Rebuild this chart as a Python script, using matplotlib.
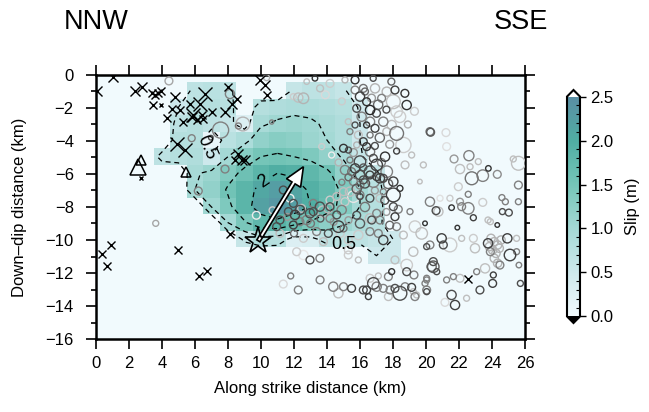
import numpy as np
import matplotlib
matplotlib.use("Agg")
from matplotlib import pyplot as plt
from matplotlib.colors import LinearSegmentedColormap
from matplotlib.patches import FancyArrow
from matplotlib.ticker import MultipleLocator

plt.rcParams['font.family'] = ['Liberation Sans', 'DejaVu Sans']

# slip (m) on 1 km cells; columns centred on x = 0..26 km, rows centred on depth 0.95 + k km
slip_rows = [
    [0, 0, 0, 0, 0, 0, .7, .75, .7, 0, 0, 0, .6, .7, .7, .6, 0, 0, 0, 0, 0, 0, 0, 0, 0, 0, 0],
    [0, 0, 0, 0, 0, .5, .75, .8, .75, 0, .8, .85, .9, .9, .85, .8, .45, 0, 0, 0, 0, 0, 0, 0, 0, 0, 0],
    [0, 0, 0, 0, 0, .7, .8, .7, .6, .3, .95, 1.05, 1.1, 1.05, .95, .85, .5, 0, 0, 0, 0, 0, 0, 0, 0, 0, 0],
    [0, 0, 0, 0, 0, .8, .8, .1, .75, .9, 1.2, 1.3, 1.25, 1.1, 1.0, .85, .5, 0, 0, 0, 0, 0, 0, 0, 0, 0, 0],
    [0, 0, 0, 0, .7, .8, .85, .5, 1.0, 1.3, 1.5, 1.55, 1.5, 1.4, 1.2, .95, .6, 0, 0, 0, 0, 0, 0, 0, 0, 0, 0],
    [0, 0, 0, 0, 0, 0, .95, 1.1, 1.35, 1.6, 1.85, 2.0, 1.95, 1.8, 1.6, 1.2, .85, .6, 0, 0, 0, 0, 0, 0, 0, 0, 0],
    [0, 0, 0, 0, 0, 0, 1.0, 1.2, 1.55, 1.85, 2.1, 2.25, 2.15, 1.95, 1.75, 1.4, 1.0, .75, 0, 0, 0, 0, 0, 0, 0, 0, 0],
    [0, 0, 0, 0, 0, 0, 0, 1.05, 1.4, 1.85, 2.2, 2.35, 2.25, 2.0, 1.7, 1.35, 1.0, .8, 0, 0, 0, 0, 0, 0, 0, 0, 0],
    [0, 0, 0, 0, 0, 0, 0, 0, 1.0, 1.45, 1.8, 1.9, 1.7, 1.45, 1.25, 1.05, .9, .75, 0, 0, 0, 0, 0, 0, 0, 0, 0],
    [0, 0, 0, 0, 0, 0, 0, 0, 0, .6, .85, .8, .3, .35, .7, .75, .7, .6, .5, 0, 0, 0, 0, 0, 0, 0, 0],
    [0, 0, 0, 0, 0, 0, 0, 0, 0, 0, 0, 0, 0, 0, 0, 0, 0, .5, .5, 0, 0, 0, 0, 0, 0, 0, 0],
] + [[0] * 27 for _ in range(5)]
cell_x = np.arange(27)
cell_depth = 0.95 + np.arange(16)
labelled_levels = [0.5, 2.0]
plain_levels = [1.0, 1.5]
label_spots = [(6.9, -4.3), (10.8, -7.4), (15.0, -10.4)]

# aftershocks: (along strike km, depth km, size, grey tone)
shocks_north = [
    (13.27, 0.20, 1.2, .2), (12.77, 0.40, 1.2, .75), (13.58, 0.81, 1.5, .75), (14.18, 0.51, 1.7, .8),
    (12.26, 1.37, 2.0, .75), (12.57, 1.41, 2.3, .7), (11.96, 1.31, 1.3, .8), (15.09, 0.30, 1.3, .7),
    (15.70, 0.30, 1.7, .2), (16.20, 0.81, 1.7, .45), (16.00, 1.31, 2.0, .25), (16.80, 0.20, 1.3, .3),
    (16.91, 0.81, 2.0, .7), (16.40, 1.62, 1.7, .2), (16.61, 2.12, 2.0, .15), (17.00, 2.32, 1.7, .3),
    (17.31, 1.41, 1.7, .5), (17.62, 1.01, 2.0, .7), (18.12, 0.91, 1.7, .25), (18.72, 1.11, 1.7, .2),
    (18.83, 1.82, 2.0, .2), (18.02, 1.62, 3.0, .75), (18.22, 2.22, 2.5, .8), (18.22, 3.54, 3.0, .45),
    (18.63, 4.24, 3.3, .8), (17.92, 3.03, 2.0, .75), (17.41, 2.83, 2.0, .5), (17.62, 3.43, 1.7, .7),
    (16.40, 3.03, 1.3, .2), (16.91, 3.23, 1.7, .25), (16.61, 3.64, 1.3, .45), (16.20, 4.04, 1.7, .25),
    (16.61, 4.65, 2.0, .45), (16.40, 4.34, 1.7, .2), (16.81, 5.05, 1.7, .3), (17.01, 5.45, 2.5, .25),
    (17.52, 4.95, 2.0, .2), (18.22, 4.61, 1.3, .25), (19.13, 4.85, 1.3, .75), (19.84, 5.45, 1.3, .75),
    (20.24, 3.43, 1.7, .45), (15.00, 4.44, 1.7, .2), (15.30, 4.55, 1.3, .3), (15.80, 4.24, 1.3, .7),
    (15.39, 5.15, 1.3, .45), (15.70, 5.66, 2.0, .25), (16.00, 5.25, 2.5, .3), (16.61, 5.86, 2.5, .3),
    (17.21, 6.26, 2.0, .25), (17.62, 5.86, 2.5, .5), (18.02, 6.46, 2.0, .25), (18.42, 6.87, 1.3, .2),
    (18.02, 7.27, 3.0, .25), (17.41, 7.07, 1.3, .5), (16.81, 6.46, 2.5, .5), (16.30, 6.57, 2.0, .3),
    (16.00, 6.06, 2.0, .3), (15.60, 6.46, 1.7, .5), (16.00, 7.27, 1.7, .5), (15.39, 7.07, 2.0, .75),
    (15.00, 7.07, 1.7, .75), (14.28, 4.85, 1.3, .93), (13.68, 4.34, 1.3, .8),
    (15.70, 0.91, 1.7, .5), (15.80, 2.02, 1.7, .3), (16.10, 2.53, 2.0, .5), (15.70, 3.03, 1.3, .3),
    (15.39, 3.43, 1.3, .5), (15.90, 3.64, 1.7, .75), (15.29, 2.83, 1.3, .75), (16.61, 2.83, 2.0, .5),
    (18.42, 2.53, 2.5, .8), (18.73, 5.45, 1.7, .75),
    (16.30, 1.00, 1.5, .4), (16.70, 1.40, 1.7, .6), (17.10, 1.80, 2.0, .4), (17.60, 2.10, 1.5, .3),
    (17.20, 3.80, 2.0, .4), (17.80, 4.20, 1.7, .6), (16.90, 4.30, 1.5, .3), (15.60, 4.70, 1.7, .6),
    (16.20, 5.60, 1.5, .35), (17.30, 5.30, 1.7, .5), (15.30, 6.20, 1.5, .4), (14.70, 5.30, 1.5, .7),
    (18.90, 3.00, 1.5, .7), (19.30, 2.20, 1.7, .8), (17.90, 0.40, 1.5, .4), (14.90, 1.60, 1.5, .8),
    (13.90, 1.20, 1.7, .85),
]
shocks_middle = [
    (11.35, 6.97, 1.7, .3), (11.76, 7.47, 1.7, .93), (11.66, 8.28, 1.7, .3), (12.06, 8.48, 2.0, .25),
    (11.96, 9.09, 1.7, .25), (12.36, 8.89, 1.7, .5), (12.77, 8.79, 2.0, .5), (12.46, 8.08, 1.7, .75),
    (13.17, 8.28, 1.7, .3), (13.57, 7.98, 2.0, .3), (13.78, 8.28, 2.5, .75), (14.08, 8.08, 2.0, .7),
    (14.18, 7.58, 1.7, .8), (14.59, 7.37, 1.7, .75), (14.59, 8.48, 1.7, .3), (14.69, 9.19, 2.5, .25),
    (14.89, 8.18, 2.0, .5), (15.09, 7.68, 1.7, .8), (15.60, 7.37, 2.5, .9),
    (15.90, 9.70, 2.0, .8), (15.29, 9.99, 1.7, .8), (16.00, 7.37, 1.3, .3), (16.20, 6.36, 1.7, .3),
    (15.49, 5.86, 1.7, .45), (15.09, 5.76, 2.0, .5), (16.00, 6.67, 1.7, .5), (16.60, 6.06, 1.7, .25),
    (17.01, 6.16, 1.7, .25), (17.41, 6.26, 1.7, .3), (17.21, 7.47, 1.7, .75), (16.60, 7.47, 1.7, .3),
    (17.01, 8.38, 1.7, .5), (17.21, 8.79, 1.7, .5), (16.60, 8.69, 2.0, .75), (16.60, 9.49, 1.7, .5),
    (11.15, 8.79, 1.7, .3), (10.95, 9.19, 1.7, .3), (11.15, 9.60, 1.7, .75), (12.57, 9.90, 1.7, .8),
    (13.37, 9.49, 1.7, .5), (13.78, 10.10, 1.7, .75), (14.08, 9.60, 1.7, .3), (14.18, 8.69, 1.7, .5),
    (12.97, 11.21, 1.7, .3), (12.57, 10.91, 2.0, .9), (12.16, 10.71, 1.7, .8), (13.57, 11.11, 1.7, .5),
    (12.97, 8.38, 2.0, .3), (12.36, 8.18, 2.0, .3), (11.96, 7.78, 1.7, .3), (13.17, 7.78, 1.7, .5),
    (14.18, 7.98, 1.7, .3), (16.71, 8.79, 1.7, .3), (17.11, 9.60, 1.7, .5), (14.80, 9.60, 1.7, .8),
    (15.80, 6.90, 2.0, .35), (16.90, 7.00, 1.5, .6), (17.70, 6.60, 2.0, .4), (17.50, 7.60, 1.7, .3),
    (16.30, 8.00, 2.0, .45), (15.80, 8.50, 1.7, .3), (15.30, 8.80, 1.5, .6), (16.00, 9.00, 2.0, .35),
    (17.60, 8.30, 1.5, .6), (17.80, 9.10, 1.7, .4), (13.00, 9.00, 1.7, .45), (12.00, 9.60, 1.5, .4),
    (13.60, 8.70, 1.5, .35), (14.40, 8.90, 1.5, .6), (15.00, 9.30, 1.5, .45), (11.60, 8.60, 1.5, .6),
    (10.70, 8.20, 1.5, .8), (14.90, 6.50, 1.3, .5),
]
shocks_west = [
    (6.20, 7.03, 1.7, .5), (7.82, 5.70, 1.7, .5), (9.72, 8.50, 1.7, .93), (4.42, 0.36, 1.7, .65),
    (5.80, 3.83, 1.5, .5), (7.55, 3.34, 3.5, .5), (8.90, 2.97, 3.0, .7), (8.63, 3.09, 1.3, .5),
    (6.96, 3.80, 1.0, .3), (8.12, 1.15, 2.0, .5), (10.65, 2.85, 0.9, .5), (3.62, 8.99, 1.3, .65),
    (10.34, 0.16, 1.3, .7),
]
shocks_south = [
    (20.24, 7.68, 2.0, .5), (20.75, 8.28, 2.0, .75), (19.94, 8.99, 1.0, .2), (19.33, 9.19, 2.5, .8),
    (19.74, 9.60, 2.5, .75), (20.24, 10.30, 1.7, .5), (20.04, 10.40, 1.3, .3), (18.63, 9.70, 1.7, .75),
    (18.22, 9.19, 1.7, .5), (18.12, 8.59, 1.7, .25), (18.32, 8.14, 1.7, .5), (18.02, 7.98, 1.7, .3),
    (17.41, 10.00, 2.0, .25), (18.12, 11.21, 1.7, .75), (17.92, 11.92, 1.3, .2), (17.72, 12.22, 1.7, .5),
    (18.83, 11.92, 1.7, .3), (19.27, 12.12, 1.7, .5), (17.11, 12.18, 1.3, .75), (16.61, 12.32, 1.7, .8),
    (16.81, 12.63, 2.5, .3), (17.01, 12.83, 2.0, .5), (16.40, 13.03, 1.7, .25), (16.51, 13.43, 1.3, .25),
    (16.20, 13.03, 1.7, .3), (17.41, 12.93, 1.7, .5), (17.82, 13.03, 1.7, .5), (18.12, 12.93, 1.7, .3),
    (18.42, 13.23, 3.0, .3), (18.73, 12.83, 1.7, .5), (19.13, 12.87, 1.7, .25), (19.33, 13.43, 1.7, .5),
    (17.72, 13.43, 1.7, .75), (20.04, 13.03, 1.7, .5), (20.44, 11.62, 2.5, .35), (20.04, 12.42, 1.3, .5),
    (15.49, 12.93, 1.7, .25), (15.00, 12.83, 1.7, .5), (14.38, 12.83, 2.0, .5), (14.69, 13.23, 2.0, .75),
    (13.58, 12.42, 1.7, .5), (12.26, 13.03, 1.7, .5), (11.80, 12.18, 1.3, .5), (11.35, 12.67, 1.7, .85),
    (15.29, 10.60, 1.7, .8), (15.29, 10.91, 1.7, .8), (15.90, 11.21, 1.3, .75),
]
shocks_east = [
    (20.28, 3.47, 1.7, .35), (21.21, 3.49, 1.7, .85), (21.25, 4.34, 1.7, .88), (22.60, 4.89, 2.2, .5),
    (21.70, 5.09, 1.7, .6), (22.06, 5.70, 2.0, .75), (22.77, 6.26, 2.8, .45), (23.44, 6.10, 2.5, .5),
    (23.78, 5.66, 1.2, .2), (24.32, 6.02, 1.7, .55), (23.17, 5.25, 1.3, .75), (22.67, 5.56, 1.3, .75),
    (25.60, 5.35, 3.0, .75), (25.29, 5.09, 1.3, .75), (25.60, 6.67, 1.7, .5), (21.96, 6.77, 1.7, .8),
    (22.56, 7.23, 1.3, .5), (21.45, 7.47, 1.3, .8), (20.61, 8.22, 1.7, .3), (20.85, 7.47, 1.3, .88),
    (21.55, 8.04, 1.2, .2), (22.06, 7.68, 1.5, .6), (22.16, 7.98, 1.7, .5), (22.56, 8.08, 2.5, .5),
    (22.87, 8.65, 1.3, .25), (23.44, 7.72, 1.7, .8), (24.60, 7.43, 1.3, .5), (24.81, 7.68, 1.3, .5),
    (25.02, 8.34, 1.5, .3), (25.60, 7.68, 1.3, .5), (23.76, 8.79, 1.3, .75), (24.32, 9.09, 1.0, .2),
    (23.90, 8.89, 1.3, .75), (21.90, 9.25, 1.0, .2), (20.95, 9.90, 2.0, .25), (21.05, 10.30, 1.7, .3),
    (21.45, 10.30, 3.0, .8), (22.16, 9.90, 1.3, .75), (22.87, 9.90, 1.7, .8), (22.97, 10.50, 2.0, .75),
    (23.76, 10.20, 2.0, .25), (23.90, 10.71, 1.7, .5),
    (23.94, 9.90, 1.8, .7), (24.14, 10.10, 1.8, .7), (24.34, 10.30, 1.8, .7), (24.04, 10.61, 1.8, .7),
    (24.24, 10.81, 1.8, .7), (24.44, 10.50, 1.8, .7), (23.84, 10.40, 1.8, .7), (24.55, 10.00, 1.8, .7),
    (24.14, 11.11, 1.8, .7), (24.34, 11.41, 1.8, .7),
    (24.93, 9.90, 2.0, .25), (25.09, 10.91, 2.5, .25), (25.49, 10.71, 1.3, .5), (25.63, 11.52, 1.2, .5),
    (24.48, 11.52, 1.7, .5), (24.08, 12.12, 1.3, .25), (24.04, 12.63, 1.7, .25), (23.07, 11.92, 1.3, .5),
    (23.27, 13.03, 1.7, .3), (22.06, 12.32, 1.7, .75), (21.55, 13.33, 2.0, .3), (21.76, 13.94, 2.0, .25),
    (21.25, 12.42, 1.3, .5), (21.66, 12.22, 1.3, .5), (22.46, 13.53, 1.3, .75), (20.04, 12.32, 1.3, .5),
    (20.34, 11.62, 2.0, .4), (20.44, 11.31, 1.7, .3), (20.65, 11.92, 1.3, .3), (19.94, 12.63, 1.3, .5),
    (20.04, 13.13, 1.3, .3), (19.23, 13.13, 1.3, .75), (19.43, 13.33, 1.3, .75), (25.72, 12.63, 1.3, .3),
    (23.58, 11.72, 2.0, .75), (21.15, 13.78, 1.7, .85), (25.49, 9.90, 1.3, .75), (24.63, 8.28, 1.3, .3),
    (19.63, 6.46, 1.0, .75), (19.03, 8.28, 1.3, .5), (19.23, 10.71, 2.0, .75), (18.83, 11.52, 2.5, .8),
]

# older events (crosses): (x km, depth km, size class)
crosses = [
    (1.05, 0.10, 3), (0.08, 0.97, 3), (2.36, 0.97, 3), (2.77, 0.70, 3), (3.37, 1.10, 2),
    (3.58, 1.20, 2), (3.78, 1.10, 2), (3.92, 0.97, 2), (3.48, 1.82, 2), (3.94, 1.82, 1),
    (2.71, 6.22, 1), (4.79, 1.33, 3), (4.59, 2.04, 2), (5.09, 2.14, 2), (6.60, 1.13, 4),
    (6.30, 1.74, 4), (5.70, 1.78, 2), (7.01, 2.24, 2), (6.50, 2.65, 2), (5.90, 2.45, 4),
    (5.30, 2.85, 2), (6.10, 2.73, 2), (6.40, 2.42, 2), (7.82, 2.24, 3), (8.02, 0.73, 2),
    (8.53, 1.43, 2), (8.22, 1.74, 3), (9.94, 0.32, 3), (10.24, 0.63, 3), (10.34, 1.23, 2),
    (4.89, 4.16, 4), (5.39, 4.57, 4), (8.63, 4.77, 3), (9.03, 5.17, 3), (8.42, 5.17, 2),
    (8.83, 5.15, 3), (4.28, 2.63, 2), (5.80, 2.52, 3),
    (0.35, 10.87, 2), (0.89, 10.30, 2), (0.69, 11.58, 2), (4.95, 10.60, 2), (6.71, 11.88, 2),
    (6.26, 12.18, 2), (8.12, 9.66, 2), (22.57, 12.38, 2),
]
stations = [(2.55, 5.57, 11), (2.73, 5.15, 6.5), (5.45, 5.88, 6.5)]
hypo_x, hypo_depth = 9.84, 10.05
slip_dir_x, slip_dir_depth = 12.57, 5.56

bg = '#f1fafd'
cmap = LinearSegmentedColormap.from_list('slip', [
    (0.0, '#f1fafd'), (0.2, '#cde8ec'), (0.4, '#a4d9d5'),
    (0.6, '#75c5b8'), (0.8, '#50aea3'), (1.0, '#5a8ea4')])
cmap.set_over('white')
cmap.set_under('black')

fig = plt.figure(figsize=(6.49, 4.12), dpi=100)
ax = fig.add_axes([96 / 649, 73 / 412, 429 / 649, 264 / 412])
ax.set_facecolor(bg)

slip = np.array(slip_rows, dtype=float)
x_edges = np.append(cell_x - 0.5, cell_x[-1] + 0.5)
d_edges = np.append(cell_depth - 0.5, cell_depth[-1] + 0.5)
mesh = ax.pcolormesh(x_edges, -d_edges, slip, cmap=cmap, vmin=0, vmax=2.5, shading='flat', zorder=1)

dash = [(0, (4, 3))]
ax.contour(cell_x, -cell_depth, slip, levels=plain_levels, colors='k',
           linewidths=0.9, linestyles=dash, zorder=2)
cs = ax.contour(cell_x, -cell_depth, slip, levels=labelled_levels, colors='k',
                linewidths=0.9, linestyles=dash, zorder=2)
ax.clabel(cs, manual=label_spots, fmt={0.5: '0.5', 2.0: '2'}, fontsize=13, inline=True)

shocks = sorted(shocks_north + shocks_middle + shocks_west + shocks_south + shocks_east,
                key=lambda q: -q[3])
sx = [q[0] for q in shocks]
sy = [-q[1] for q in shocks]
ss = [(4.6 * q[2] * 0.72) ** 2 for q in shocks]
sc = [str(q[3]) for q in shocks]
ax.scatter(sx, sy, s=ss, facecolors='none', edgecolors=sc, linewidths=1.0, zorder=3)

for x, d, k in crosses:
    ax.plot(x, -d, marker='x', color='k', ms=2.2 * k + 0.8, mew=1.0, zorder=4)

for x, d, ms in stations:
    ax.plot(x, -d, marker='^', mfc='none', mec='k', ms=ms, mew=1.1, zorder=4)

ax.add_patch(FancyArrow(hypo_x, -hypo_depth, slip_dir_x - hypo_x, hypo_depth - slip_dir_depth,
                        width=0.22, head_width=1.0, head_length=1.15, length_includes_head=True,
                        fc='white', ec='k', lw=1.2, zorder=5))
ax.plot(hypo_x, -hypo_depth, marker='*', ms=20, mfc='none', mec='k', mew=1.2, zorder=6)

ax.set_xlim(0, 26)
ax.set_ylim(-16, 0)
ax.set_xticks(range(0, 27, 2))
ax.set_yticks(range(-16, 1, 2))
ax.yaxis.set_minor_locator(MultipleLocator(1))
ax.tick_params(which='major', direction='out', length=7, width=1.2, top=True, right=True,
               labelsize=12)
ax.tick_params(which='minor', direction='out', length=3.5, width=1.2, left=True, right=True)
ax.tick_params(axis='x', pad=5)
ax.tick_params(axis='y', pad=9)
for sp in ax.spines.values():
    sp.set_linewidth(1.8)

fig.text(310 / 649, 1 - 388 / 412, 'Along strike distance (km)', fontsize=12, ha='center', va='center')
fig.text(20 / 649, 1 - 207 / 412, 'Down\u2013dip distance (km)', fontsize=12, rotation=90,
         ha='center', va='center')
fig.text(64 / 649, 1 - 22 / 412, 'NNW', fontsize=19.5, ha='left', va='center')
fig.text(548 / 649, 1 - 22 / 412, 'SSE', fontsize=19.5, ha='right', va='center')

cax = fig.add_axes([567 / 649, (412 - 323) / 412, 13 / 649, (323 - 90) / 412])
cb = fig.colorbar(mesh, cax=cax, extend='both', extendfrac=0.03, ticks=[0, 0.5, 1.0, 1.5, 2.0, 2.5])
cb.ax.set_yticklabels(['0.0', '0.5', '1.0', '1.5', '2.0', '2.5'])
cb.ax.yaxis.set_minor_locator(MultipleLocator(0.1))
cb.ax.tick_params(which='major', length=4, width=1.0, labelsize=12, direction='out')
cb.ax.tick_params(which='minor', length=3, width=0.8, direction='in')
cb.outline.set_linewidth(1.5)
cb.set_label('Slip (m)', fontsize=12, labelpad=8)

fig.savefig('out.png', dpi=100)
